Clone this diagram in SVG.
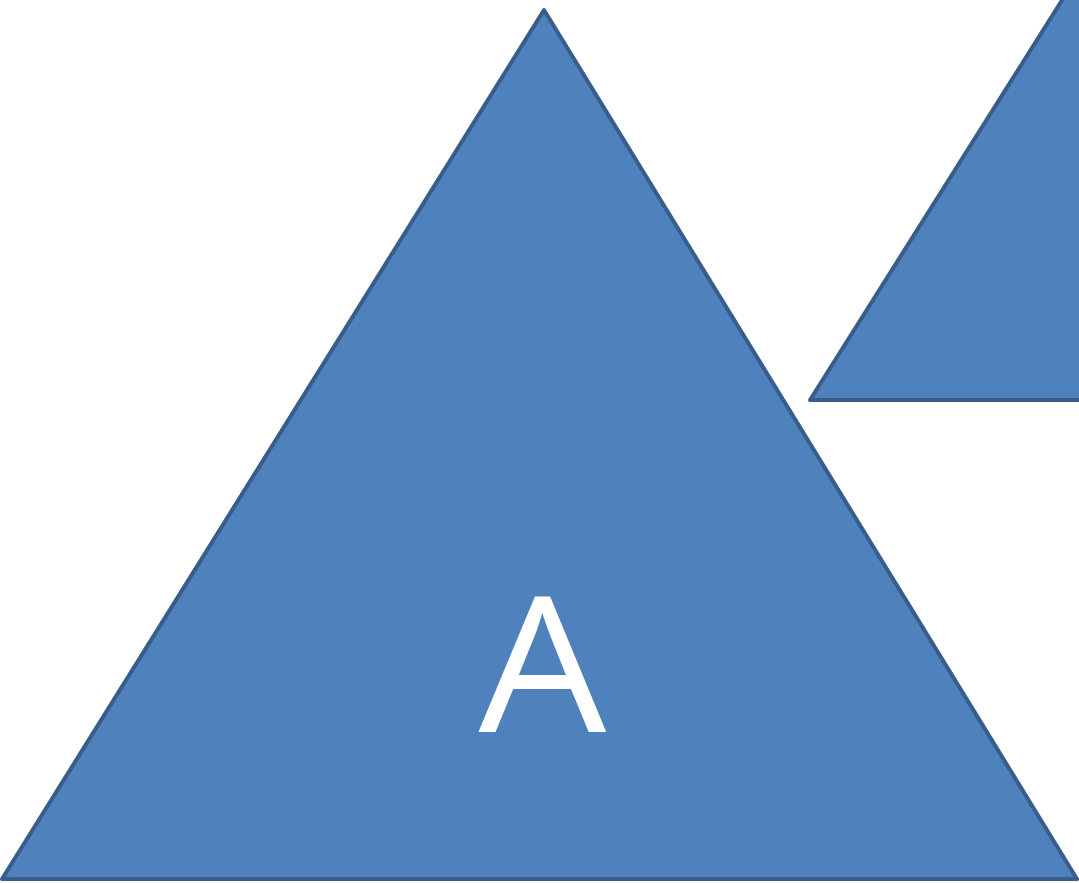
<svg xmlns="http://www.w3.org/2000/svg" width="1079" height="883" viewBox="0 0 1079 883">
<style>
.tri{fill:#4F81BD;stroke:#385D8A;stroke-width:4;stroke-linejoin:round}
.lbl{fill:#FFFFFF;font-family:"Open Sans","Noto Sans",sans-serif;font-size:189px;text-anchor:middle}
</style>
<rect width="1079" height="883" fill="#FFFFFF"/>
<g id="node-b">
<polygon class="tri" points="810,400 1076,-22 1340,400"/>
</g>
<g id="node-a">
<polygon class="tri" points="544,10 1077,879 2,879"/>
<text class="lbl" transform="translate(542.5,732) scale(1.07,1)" x="0" y="0">A</text>
</g>
<g id="connectors"></g>
</svg>
